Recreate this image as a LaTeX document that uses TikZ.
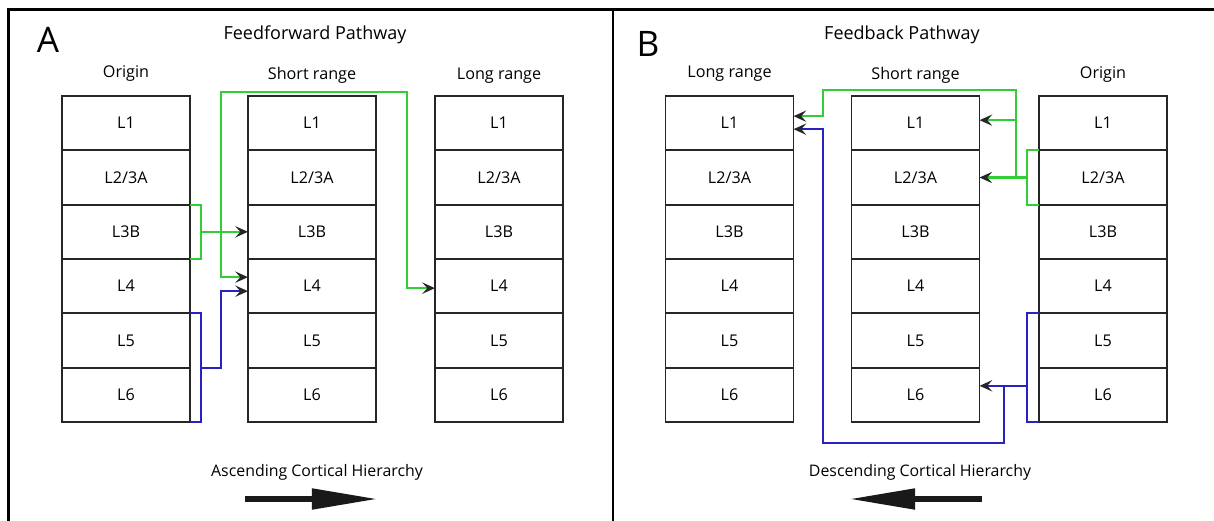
\documentclass[tikz,border=0pt]{standalone}
\usepackage{fontspec}
\setmainfont{Open Sans}
\usetikzlibrary{calc,arrows.meta}

\definecolor{ffgreen}{RGB}{50,205,55}
\definecolor{fbblue}{RGB}{40,35,190}

\tikzset{
	layer/.style={draw=black!85, line width=1.2pt, minimum width=3.2cm, minimum height=1.358cm, inner sep=0pt, outer sep=0pt, font=\fontsize{11.5}{13}\selectfont},
	colhead/.style={font=\fontsize{11.5}{13}\selectfont},
	pathtitle/.style={font=\fontsize{12.8}{15}\selectfont},
	panelletter/.style={font=\fontsize{25}{30}\selectfont},
	greenline/.style={draw=ffgreen, line width=1.45pt},
	blueline/.style={draw=fbblue, line width=1.45pt},
	inarrow/.style={-{Stealth[length=9pt,width=8pt,inset=3.5pt,black!85]}},
	bigarrow/.style={line width=4.3pt, black!90, -{Triangle[length=47pt,width=14pt]}}
}

% one column of cortical layers, #1 = name prefix, #2 = x of centre
\def\layercol#1#2{\foreach \lab [count=\i] in {L1,{L2/3A},L3B,L4,L5,L6}
	\node[layer] (#1\i) at (#2, {96+54.33*(\i-0.5)}) {\lab};}

\begin{document}
\begin{tikzpicture}[x=0.025cm, y=-0.025cm]
			%%%%% START %%%%%
			\useasboundingbox (0,0) rectangle (1214,520);
			
			% frame
			\draw[line width=1.6pt] (8.5,530) -- (8.5,9.5) -- (1220,9.5);
			\draw[line width=1.6pt] (613,9.5) -- (613,530);
			
			%%%%% A: feedforward %%%%%
			\node[panelletter] (A) at (48,40) {A};
			\node[pathtitle] (Atitle) at (315,35) {Feedforward Pathway};
			
			\layercol{Ao}{126}
			\layercol{As}{312}
			\layercol{Al}{499}
			
			\node[colhead] (Aoh) at (126,74) {Origin};
			\node[colhead] (Ash) at (312,75) {Short range};
			\node[colhead] (Alh) at (499,76) {Long range};
			
			\coordinate (Aj) at ($(As3.west)+(-27,0)$);
			\draw[greenline] (Ao3.north east) -- ++(11,0) |- (Ao3.south east);
			\draw[greenline, inarrow] ($(Ao3.east)+(11,0)$) -- (As3.west);
			\draw[greenline, inarrow] (Aj) |- ($(As4.west)+(0,-9)$);
			\draw[greenline, inarrow] (Aj) -- ++(0,-140) -| ($(Al4.west)+(-28,2)$) -- ($(Al4.west)+(0,2)$);
			
			\draw[blueline] (Ao5.north east) -- ++(11,0) |- (Ao6.south east);
			\draw[blueline, inarrow] ($(Ao6.north east)+(11,0)$) -| ($(As4.west)+(-27,5)$) -- ($(As4.west)+(0,5)$);
			
			\node (Aasc) at (317,472) {\fontsize{11.3}{13}\selectfont Ascending Cortical Hierarchy};
			\draw[bigarrow] (245,499) -- (378,499);
			
			%%%%% B: feedback %%%%%
			\node[panelletter] (B) at (648,44) {B};
			\node[pathtitle] (Btitle) at (902,35) {Feedback Pathway};
			
			\layercol{Bl}{729.5}
			\layercol{Bs}{915.5}
			\layercol{Bo}{1103}
			
			\node[colhead] (Blh) at (729.5,74) {Long range};
			\node[colhead] (Bsh) at (915.5,75) {Short range};
			\node[colhead] (Boh) at (1103,75) {Origin};
			
			\coordinate (Bgj) at ($(Bs2.east)+(36,0)$);
			\coordinate (Bbj) at ($(Bs6.east)+(24,-9)$);
			\draw[greenline] (Bo2.north west) -- ++(-12,0) |- (Bo2.south west);
			\draw[greenline, inarrow] ($(Bo2.west)+(-12,0)$) -- (Bs2.east);
			\draw[greenline, inarrow] (Bgj) |- ($(Bl1.east)+(29,-33)$) |- ($(Bl1.east)+(0,-7)$);
			\draw[greenline, inarrow] ($(Bs1.east)+(36,-3)$) -- ($(Bs1.east)+(0,-3)$);
			
			\draw[blueline] (Bo5.north west) -- ++(-12,0) |- (Bo6.south west);
			\draw[blueline, inarrow] ($(Bo6.west)+(-12,-9)$) -- ($(Bs6.east)+(0,-9)$);
			\draw[blueline, inarrow] (Bbj) |- ($(Bl6.east)+(29,48)$) |- ($(Bl1.east)+(0,6)$);
			
			\node (Bdesc) at (920,472) {\fontsize{11.3}{13}\selectfont Descending Cortical Hierarchy};
			\draw[bigarrow] (982,499) -- (849,499);
			
			%%%%% END %%%%%
\end{tikzpicture}
\end{document}
